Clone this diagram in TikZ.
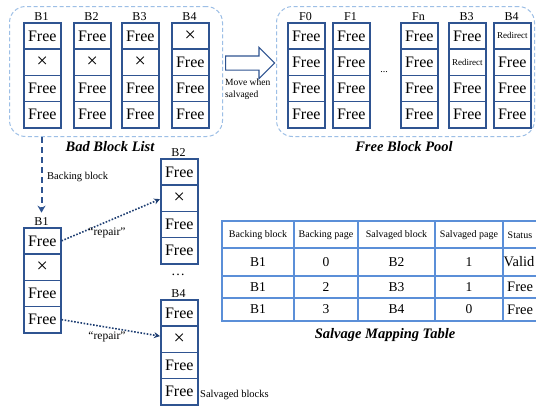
\documentclass[tikz,border=0pt]{standalone}
\usepackage{fontspec}
\setmainfont{Liberation Serif}
\usetikzlibrary{shapes.arrows,arrows.meta}
\definecolor{blkblue}{HTML}{2F5491}
\definecolor{panelblue}{HTML}{9DBFE6}
\definecolor{tblblue}{HTML}{5B8FD8}
\definecolor{arrblue}{HTML}{1F3F73}
\tikzset{
  cell/.style={draw=blkblue, line width=1.5pt, minimum width=37pt, minimum height=26.25pt,
    inner sep=0pt, anchor=north west, font=\fontsize{16}{16}\selectfont},
  blklabel/.style={font=\fontsize{12}{12}\selectfont, inner sep=0pt, anchor=south},
  panel/.style={draw=panelblue, dash pattern=on 4pt off 2.5pt, line width=1pt, rounded corners=16pt},
  titletext/.style={font=\fontsize{14.5}{15}\selectfont\bfseries\itshape, inner sep=0pt},
  smalltext/.style={font=\fontsize{10}{11}\selectfont, inner sep=0pt},
  hdr/.style={font=\fontsize{10}{11}\selectfont, inner sep=0pt},
  val/.style={font=\fontsize{13.5}{14}\selectfont, inner sep=0pt},
  grid/.style={draw=tblblue, line width=1.6pt},
  dotarrow/.style={draw=arrblue, line width=1.6pt, dash pattern=on 1.6pt off 1.6pt, -{Stealth[length=6pt,width=6pt]}},
  dasharrow/.style={draw=blkblue, line width=2pt, dash pattern=on 6pt off 4pt, -{Stealth[length=7pt,width=8pt]}},
}
\newcommand\Fr{Free}
\newcommand\Xx{{\fontsize{20}{20}\selectfont ×}}
\newcommand\Rd{{\fontsize{9}{9}\selectfont Redirect}}
\newcommand\myblock[8]{%
  \node[blklabel] (#1-lbl) at (#2+18.5,#3-1) {#4};
  \node[cell] (#1-0) at (#2,#3) {#5};
  \node[cell] (#1-1) at (#2,#3+26.25) {#6};
  \node[cell] (#1-2) at (#2,#3+52.5) {#7};
  \node[cell] (#1-3) at (#2,#3+78.75) {#8};
}
\begin{document}
\begin{tikzpicture}[x=1pt,y=-1pt]
\fill[white] (0,0) rectangle (536,410);
\useasboundingbox (0,0) rectangle (536,410);

% panels
\node[panel, anchor=north west, minimum width=213pt, minimum height=130pt, inner sep=0pt] (badpanel) at (9,6) {};
\node[panel, anchor=north west, minimum width=258pt, minimum height=130pt, inner sep=0pt] (freepanel) at (276,6) {};

% bad block list
\myblock{ba}{23}{22}{B1}{\Fr}{\Xx}{\Fr}{\Fr}
\myblock{bb}{73}{22}{B2}{\Fr}{\Xx}{\Fr}{\Fr}
\myblock{bc}{121}{22}{B3}{\Fr}{\Xx}{\Fr}{\Fr}
\myblock{bd}{171}{22}{B4}{\Xx}{\Fr}{\Fr}{\Fr}

% free block pool
\myblock{fa}{287}{22}{F0}{\Fr}{\Fr}{\Fr}{\Fr}
\myblock{fb}{332}{22}{F1}{\Fr}{\Fr}{\Fr}{\Fr}
\myblock{fn}{400}{22}{Fn}{\Fr}{\Fr}{\Fr}{\Fr}
\myblock{fc}{448}{22}{B3}{\Fr}{\Rd}{\Fr}{\Fr}
\myblock{fd}{493}{22}{B4}{\Rd}{\Fr}{\Fr}{\Fr}
\node[font=\fontsize{10}{10}\selectfont] (fdots) at (384,72) {...};

% move arrow
\node[single arrow, draw=blkblue, fill=white, line width=1.2pt, minimum width=30pt,
  single arrow head extend=8.5pt, minimum height=49pt, inner xsep=0pt, inner ysep=6.5pt,
  anchor=west] (movearrow) at (225,63) {};
\node[smalltext, font=\fontsize{9.5}{11.5}\selectfont, align=left, anchor=north west] (movetext) at (225,79) {Move when\\salvaged};

% titles
\node[titletext] (badtitle) at (110,147) {Bad Block List};
\node[titletext] (freetitle) at (404,147) {Free Block Pool};

% lower blocks
\myblock{la}{23}{227}{B1}{\Fr}{\Xx}{\Fr}{\Fr}
\myblock{lb}{160}{158}{B2}{\Fr}{\Xx}{\Fr}{\Fr}
\myblock{ld}{160}{299}{B4}{\Fr}{\Xx}{\Fr}{\Fr}
\node[font=\fontsize{14}{14}\selectfont, inner sep=0pt] (ldots) at (178,275) {…};

% backing arrow
\coordinate (bstart) at (badpanel.south -| la-lbl.south);
\draw[dasharrow] (bstart) -- ([yshift=5pt]la-lbl.north);
\node[smalltext, font=\fontsize{10.5}{11}\selectfont, anchor=west] (backtext) at (47,177) {Backing block};

% repair arrows
\draw[dotarrow] (la-0.east) -- ([yshift=-1pt]lb-1.west);
\draw[dotarrow] (la-3.east) -- ([yshift=3pt]ld-1.west);
\node[font=\fontsize{11.5}{12}\selectfont, inner sep=0pt] (rep1) at (107,233) {“repair”};
\node[font=\fontsize{11.5}{12}\selectfont, inner sep=0pt] (rep2) at (107,337) {“repair”};
\node[smalltext, font=\fontsize{10.5}{11}\selectfont, anchor=west] (salvtext) at (200,395) {Salvaged blocks};

% table
\draw[grid] (222,221) rectangle (560,321);
\foreach \yy in {248,276,298} \draw[grid] (222,\yy) -- (560,\yy);
\foreach \xx in {294,358,435,503} \draw[grid] (\xx,221) -- (\xx,321);
\node[hdr] (h1) at (258,235) {Backing block};
\node[hdr] (h2) at (326,235) {Backing page};
\node[hdr] (h3) at (396.5,235) {Salvaged block};
\node[hdr] (h4) at (469,235) {Salvaged page};
\node[hdr, anchor=west] (h5) at (507.5,235) {Status};
\node[val] (r1a) at (258,262) {B1};
\node[val] (r1b) at (326,262) {0};
\node[val] (r1c) at (396.5,262) {B2};
\node[val] (r1d) at (469,262) {1};
\node[val, font=\fontsize{14.5}{15}\selectfont, anchor=west] (r1e) at (503.5,262) {Valid};
\node[val] (r2a) at (258,287) {B1};
\node[val] (r2b) at (326,287) {2};
\node[val] (r2c) at (396.5,287) {B3};
\node[val] (r2d) at (469,287) {1};
\node[val, font=\fontsize{14.5}{15}\selectfont, anchor=west] (r2e) at (507,287) {Free};
\node[val] (r3a) at (258,309.5) {B1};
\node[val] (r3b) at (326,309.5) {3};
\node[val] (r3c) at (396.5,309.5) {B4};
\node[val] (r3d) at (469,309.5) {0};
\node[val, font=\fontsize{14.5}{15}\selectfont, anchor=west] (r3e) at (507,309.5) {Free};
\node[titletext] (tbltitle) at (385,335) {Salvage Mapping Table};
\end{tikzpicture}
\end{document}
